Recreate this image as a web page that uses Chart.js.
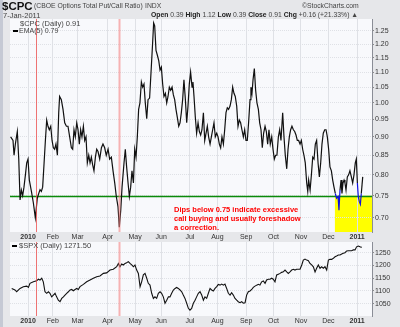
<!DOCTYPE html>
<html>
<head>
<meta charset="utf-8">
<script src="https://cdn.jsdelivr.net/npm/chart.js@4.4.1/dist/chart.umd.min.js"></script>
<style>
  body { margin: 0; background: #ffffff; }
  #frame { position: relative; width: 400px; height: 327px; background: #e6e7ea; overflow: hidden; }
  #frame::before { content: ''; position: absolute; left: 0; top: 0; width: 3px; height: 327px; background: #c5c9d4; }
  #frame canvas { position: absolute; left: 0; }
  .t { position: absolute; white-space: nowrap; font-family: 'Liberation Sans', Arial, sans-serif; color: #444; line-height: 1; }
  .b { font-weight: bold; color: #222; }
  .note { color: #ff0000; font-weight: bold; font-size: 7.5px; line-height: 9px; }
</style>
</head>
<body>
<div id="frame">
  <canvas id="cpc-chart" width="400" height="243" style="top:0"></canvas>
  <canvas id="spx-chart" width="400" height="97" style="top:230px"></canvas>

  <div class="t b" style="left:2px;top:1px;font-size:11.5px;color:#111">$CPC</div>
  <div class="t" style="left:34px;top:3px;font-size:6.8px">(CBOE Options Total Put/Call Ratio)</div>
  <div class="t" style="left:145px;top:3px;font-size:6.8px">INDX</div>
  <div class="t" style="left:3px;top:12px;font-size:7.5px">7-Jan-2011</div>
  <div class="t" style="left:302px;top:3px;font-size:6.8px">©StockCharts.com</div>
  <div class="t" style="left:151px;top:12px;font-size:6.8px"><span class="b">Open</span> 0.39 <span class="b">High</span> 1.12 <span class="b">Low</span> 0.39 <span class="b">Close</span> 0.91 <span class="b">Chg</span> +0.16 (+21.33%) ▲</div>

  <div class="t" style="left:20px;top:20px;font-size:7.5px">$CPC (Daily) 0.91</div>
  <div class="t" style="left:13px;top:27px;font-size:7px"><span style="display:inline-block;width:5px;height:1.5px;background:#000;vertical-align:middle;margin-right:1px"></span>EMA(5) 0.79</div>
  <div class="t" style="left:12px;top:242px;font-size:7.5px"><span style="display:inline-block;width:5px;height:1.5px;background:#000;vertical-align:middle;margin-right:2px"></span>$SPX (Daily) 1271.50</div>

  <div class="t note" style="left:174px;top:205px">Dips below 0.75 indicate excessive<br>call buying and usually foreshadow<br>a correction.</div>
</div>

<script>
// ==========================================
// DATA
// x positions are trading days counted from 4-Jan-2010
// ==========================================

const monthStartDays = [0, 19, 38, 61, 82, 102, 124, 145, 167, 188, 209, 230, 252];
const monthLabels = ['2010', 'Feb', 'Mar', 'Apr', 'May', 'Jun', 'Jul', 'Aug', 'Sep', 'Oct', 'Nov', 'Dec', '2011'];

const cpcTicks = [0.70, 0.75, 0.80, 0.85, 0.90, 0.95, 1.00, 1.05, 1.10, 1.15, 1.20, 1.25];
const spxTicks = [1050, 1100, 1150, 1200, 1250];

const cpcDays = [
  -13.3, -11.5, -10.7, -9.7, -8.2, -7.1, -6.1, -5.1, -4.1, -3.1, -2.0, -1.0, 0, 1.0, 2.6, 4.1, 5.6, 7.1, 8.2, 9.2,
  10.2, 11.2, 12.3, 13.3, 14.3, 15.3, 16.3, 17.4, 18.4, 19.4, 20.4, 21.4, 22.5, 23.5, 24.2, 25.5, 26.8, 28.1, 29.4, 30.6,
  31.9, 33.2, 34.2, 35.2, 36.2, 37.3, 38.3, 39.3, 40.3, 41.3, 42.4, 43.4, 44.4, 45.4, 46.5, 47.5, 48.5, 49.5, 50.5, 51.6,
  52.6, 53.6, 54.9, 56.2, 57.4, 58.7, 59.9, 61.3, 62.5, 63.8, 65.1, 66.4, 67.6, 68.9, 69.9, 71.0, 72.0, 73.5, 74.5, 75.5,
  76.6, 77.6, 78.6, 79.6, 80.7, 81.7, 82.7, 83.7, 84.7, 85.7, 86.8, 87.8, 88.8, 89.8, 90.9, 91.9, 93.1, 94.4, 95.4, 96.2,
  97.0, 98.0, 99.0, 100.1, 101.1, 102.1, 103.1, 104.1, 105.2, 106.2, 107.2, 108.2, 109.2, 110.3, 111.3, 112.3, 113.3, 114.3, 115.4, 116.4,
  117.4, 118.4, 119.4, 120.5, 121.5, 122.5, 123.5, 124.5, 125.6, 126.3, 127.1, 128.1, 129.1, 130.2, 131.2, 132.2, 133.2, 134.3, 135.3, 136.3,
  137.3, 138.3, 139.4, 140.4, 141.4, 142.4, 143.4, 144.5, 145.5, 146.5, 147.5, 148.5, 149.6, 150.6, 151.6, 152.6, 153.6, 154.7, 155.7, 156.7,
  157.7, 158.7, 159.8, 160.8, 161.8, 162.8, 163.8, 164.9, 165.9, 166.9, 167.9, 168.9, 170.0, 170.7, 171.5, 172.3, 173.3, 174.3, 175.3, 176.4,
  177.4, 178.4, 179.4, 180.4, 181.5, 182.5, 183.5, 184.5, 185.5, 186.6, 187.6, 188.6, 189.6, 190.6, 191.7, 192.7, 193.7, 195.0, 196.0, 197.0,
  198.1, 199.1, 200.1, 201.1, 202.1, 203.2, 204.2, 205.2, 206.2, 207.2, 208.3, 209.3, 210.3, 211.3, 212.3, 213.4, 214.2, 214.9, 216.0, 217.0,
  218.0, 219.0, 220.0, 221.0, 222.1, 223.1, 224.1, 225.1, 226.1, 227.2, 228.2, 229.2, 230.2, 231.2, 232.3, 233.3, 234.3, 235.3, 236.3, 237.4,
  238.1, 238.9, 239.7, 240.4, 241.2, 242.0, 242.7, 243.5, 244.5, 245.5, 246.5, 247.6, 248.6, 249.6, 250.6, 251.4, 252.2, 252.9, 253.7, 254.5,
  255.2, 256.3
];
const cpcValues = [
  0.90, 0.89, 0.85, 0.88, 0.915, 0.84, 0.74, 0.763, 0.75, 0.77, 0.80, 0.83, 0.84, 0.787, 0.76, 0.733, 0.70, 0.744, 0.755, 0.764,
  0.76, 0.77, 0.83, 0.89, 0.948, 0.93, 0.92, 0.93, 0.89, 0.87, 0.866, 0.88, 0.85, 0.97, 1.02, 1.01, 0.98, 0.94, 0.93, 0.93,
  0.90, 0.87, 0.866, 0.92, 0.90, 0.94, 0.92, 0.88, 0.92, 0.90, 0.93, 0.89, 0.90, 0.83, 0.85, 0.83, 0.845, 0.825, 0.81, 0.845,
  0.866, 0.86, 0.84, 0.87, 0.88, 0.87, 0.85, 0.866, 0.84, 0.845, 0.81, 0.78, 0.748, 0.725, 0.68, 0.717, 0.77, 0.83, 0.866, 0.82,
  0.78, 0.748, 0.77, 0.81, 0.78, 0.866, 0.845, 0.90, 0.98, 1.00, 1.067, 1.05, 1.06, 1.00, 0.952, 1.01, 1.015, 1.117, 1.203, 1.281,
  1.27, 1.177, 1.16, 1.14, 1.107, 1.117, 1.06, 1.02, 1.03, 1.00, 1.02, 1.05, 1.04, 1.05, 1.025, 1.01, 0.98, 0.957, 0.93, 0.94,
  0.97, 1.01, 1.074, 1.01, 0.94, 0.99, 1.06, 1.10, 1.05, 1.067, 1.02, 0.957, 0.91, 0.94, 0.915, 0.905, 0.92, 0.97, 0.89, 0.91,
  0.93, 0.90, 0.88, 0.90, 0.92, 0.94, 0.90, 0.91, 0.90, 0.88, 0.87, 0.90, 0.88, 0.92, 0.97, 0.985, 0.98, 0.99, 1.01, 1.05,
  1.03, 1.02, 0.99, 0.93, 0.948, 0.94, 0.92, 0.90, 0.92, 0.89, 0.89, 0.94, 1.01, 1.05, 1.03, 1.074, 1.112, 1.04, 1.00, 0.98,
  0.94, 0.92, 0.87, 0.91, 0.93, 0.915, 0.88, 0.92, 0.88, 0.90, 0.866, 0.84, 0.85, 0.85, 0.90, 0.92, 0.89, 0.97, 0.90, 0.85,
  0.815, 0.866, 0.90, 0.92, 0.93, 0.92, 0.915, 0.905, 0.89, 0.89, 0.88, 0.89, 0.866, 0.85, 0.83, 0.78, 0.76, 0.787, 0.763, 0.80,
  0.845, 0.84, 0.88, 0.89, 0.83, 0.795, 0.83, 0.88, 0.91, 0.92, 0.92, 0.90, 0.866, 0.82, 0.81, 0.787, 0.77, 0.755, 0.744, 0.748,
  0.717, 0.763, 0.787, 0.755, 0.78, 0.787, 0.78, 0.763, 0.795, 0.80, 0.81, 0.795, 0.78, 0.80, 0.83, 0.84, 0.78, 0.748, 0.736, 0.73,
  0.755, 0.795
];

const spxDays = [
  -12.5, -10.0, -8.7, -6.1, -3.6, -1.0, 0.3, 1.5, 4.1, 6.6, 7.9, 9.2, 10.5, 11.7, 13.0, 14.3, 15.6, 16.8, 18.1, 19.4,
  20.7, 21.9, 23.2, 24.5, 25.8, 27.1, 28.3, 29.6, 30.9, 32.2, 33.4, 34.7, 36.0, 37.3, 38.5, 39.8, 42.4, 44.9, 47.5, 50.0,
  52.6, 55.1, 57.7, 60.2, 62.8, 65.3, 67.9, 69.2, 70.4, 71.7, 73.0, 74.3, 75.5, 76.8, 78.1, 79.4, 80.7, 81.9, 83.2, 84.5,
  85.8, 87.0, 88.3, 89.6, 90.9, 92.1, 93.4, 94.7, 96.0, 97.2, 98.5, 99.8, 101.1, 102.3, 103.6, 104.9, 106.2, 107.5, 108.7, 110.0,
  111.3, 112.6, 113.8, 115.1, 116.4, 117.7, 118.9, 120.2, 121.5, 122.8, 124.0, 125.3, 126.6, 127.9, 129.1, 130.4, 131.7, 133.0, 134.3, 135.5,
  136.8, 138.1, 139.4, 140.6, 141.9, 143.2, 144.5, 145.7, 147.0, 148.3, 149.6, 150.8, 152.1, 153.4, 154.7, 155.9, 157.2, 158.5, 159.8, 161.0,
  162.3, 163.6, 164.9, 166.2, 167.4, 168.7, 170.0, 171.3, 172.5, 173.8, 175.1, 176.4, 177.6, 178.9, 180.2, 181.5, 182.7, 184.0, 185.3, 186.6,
  187.8, 189.1, 190.4, 191.7, 193.0, 194.2, 195.5, 196.8, 198.1, 199.3, 200.6, 201.9, 203.2, 204.4, 205.7, 207.0, 208.3, 209.6, 210.8, 212.1,
  213.4, 214.7, 215.9, 217.2, 218.5, 219.8, 221.0, 222.3, 223.6, 224.9, 226.1, 227.4, 228.7, 230.0, 231.2, 232.5, 233.8, 235.1, 236.3, 237.6,
  238.9, 240.2, 241.4, 242.7, 244.0, 245.3, 246.5, 247.8, 249.1, 250.4, 251.6, 252.9, 254.2, 255.5
];
const spxValues = [
  1110, 1104, 1097, 1110, 1117, 1119, 1114, 1130, 1136, 1140, 1146, 1143, 1150, 1136, 1097, 1091, 1097, 1091, 1077, 1084,
  1091, 1077, 1064, 1058, 1071, 1077, 1084, 1091, 1097, 1104, 1106, 1101, 1106, 1110, 1106, 1117, 1126, 1136, 1143, 1150,
  1156, 1159, 1169, 1171, 1182, 1185, 1195, 1208, 1195, 1206, 1202, 1208, 1211, 1215, 1208, 1202, 1195, 1202, 1182, 1169,
  1117, 1136, 1163, 1169, 1150, 1130, 1123, 1091, 1071, 1077, 1071, 1091, 1097, 1091, 1077, 1052, 1064, 1077, 1077, 1091,
  1104, 1110, 1114, 1110, 1104, 1097, 1084, 1071, 1052, 1032, 1025, 1032, 1052, 1064, 1077, 1091, 1097, 1084, 1064, 1077,
  1071, 1091, 1110, 1104, 1100, 1110, 1117, 1126, 1123, 1127, 1123, 1127, 1110, 1091, 1084, 1093, 1084, 1071, 1064, 1058,
  1054, 1058, 1052, 1054, 1084, 1097, 1100, 1106, 1114, 1119, 1123, 1126, 1123, 1136, 1139, 1130, 1143, 1146, 1146, 1150,
  1146, 1136, 1163, 1166, 1169, 1173, 1175, 1182, 1175, 1169, 1175, 1182, 1185, 1182, 1185, 1185, 1185, 1202, 1221, 1225,
  1221, 1219, 1208, 1202, 1195, 1175, 1189, 1202, 1189, 1195, 1189, 1195, 1182, 1221, 1224, 1224, 1228, 1234, 1237, 1241,
  1241, 1245, 1248, 1250, 1257, 1258, 1258, 1258, 1261, 1261, 1273, 1276, 1273, 1271
];

const signalLevel = 0.75;        // green line
const markerDays = [6, 70];      // red vertical markers (Jan / Apr dips)
const highlightStartDay = 235;   // yellow box start (mid Dec)

// ==========================================
// SHARED STYLE
// ==========================================

const FONT = "'Liberation Sans', Arial, sans-serif";
const GRID = '#dfe1e6';
const X_MIN = -13.8;
const X_MAX = 263.4;

function toPoints(days, values) {
  return days.map((d, i) => ({ x: d, y: values[i] }));
}

function monthAxis() {
  return {
    type: 'linear',
    min: X_MIN,
    max: X_MAX,
    afterBuildTicks: scale => { scale.ticks = monthStartDays.map(v => ({ value: v })); },
    afterFit: scale => { scale.height = 11; },
    ticks: {
      autoSkip: false,
      maxRotation: 0,
      padding: 1,
      color: '#333',
      font: ctx => ({ family: FONT, size: 7, weight: /^20/.test(monthLabels[ctx.index] || '') ? 'bold' : 'normal' }),
      callback: (value, index) => monthLabels[index]
    },
    grid: { color: GRID, drawTicks: false },
    border: { display: false }
  };
}

// Plot background, highlight box, level line and markers
const panelPlugin = {
  id: 'panel',
  beforeDraw(chart) {
    const { ctx, chartArea: a, scales } = chart;
    ctx.save();
    ctx.fillStyle = '#f8f9fc';
    ctx.fillRect(a.left, a.top, a.right - a.left, a.bottom - a.top);
    if (chart.options.plugins.panel.highlight) {
      const x0 = scales.x.getPixelForValue(highlightStartDay);
      const y0 = scales.y.getPixelForValue(signalLevel);
      ctx.fillStyle = '#ffff00';
      ctx.fillRect(x0, y0, a.right - x0, a.bottom - y0);
    }
    ctx.restore();
  },
  beforeDatasetsDraw(chart) {
    if (!chart.options.plugins.panel.highlight) return;
    const { ctx, chartArea: a, scales } = chart;
    const y = Math.round(scales.y.getPixelForValue(signalLevel)) + 0.5;
    ctx.save();
    ctx.strokeStyle = '#0a8a0a';
    ctx.lineWidth = 1.5;
    ctx.beginPath();
    ctx.moveTo(a.left, y);
    ctx.lineTo(a.right, y);
    ctx.stroke();
    ctx.restore();
  },
  afterDatasetsDraw(chart) {
    const { ctx, chartArea: a, scales } = chart;
    ctx.save();
    markerDays.forEach((d, i) => {
      const x = Math.round(scales.x.getPixelForValue(d)) + 0.5;
      ctx.strokeStyle = i === 0 ? 'rgba(235, 70, 70, 0.75)' : 'rgba(245, 130, 130, 0.6)';
      ctx.lineWidth = i === 0 ? 1 : 2;
      ctx.beginPath();
      ctx.moveTo(x, a.top);
      ctx.lineTo(x, a.bottom);
      ctx.stroke();
    });
    ctx.restore();
  }
};

// ==========================================
// $CPC PANEL
// ==========================================

new Chart(document.getElementById('cpc-chart'), {
  type: 'line',
  data: {
    datasets: [{
      data: toPoints(cpcDays, cpcValues),
      borderColor: '#111',
      borderWidth: 1.2,
      pointRadius: 0,
      tension: 0,
      segment: {
        borderColor: ctx => (ctx.p0.parsed.x >= highlightStartDay &&
          (ctx.p0.parsed.y < signalLevel || ctx.p1.parsed.y < signalLevel)) ? '#1010e0' : undefined
      }
    }]
  },
  options: {
    responsive: false,
    animation: false,
    layout: { padding: { left: 10, top: 19, right: 0, bottom: 0 } },
    plugins: { legend: { display: false }, tooltip: { enabled: false }, panel: { highlight: true } },
    scales: {
      x: monthAxis(),
      y: {
        type: 'logarithmic',
        position: 'right',
        min: 0.673,
        max: 1.297,
        afterBuildTicks: scale => { scale.ticks = cpcTicks.map(v => ({ value: v })); },
        afterFit: scale => { scale.width = 28; },
        ticks: {
          padding: 1,
          color: '#333',
          font: { family: FONT, size: 7 },
          callback: value => Number(value).toFixed(2)
        },
        grid: { color: GRID, tickLength: 2, tickColor: '#888' },
        border: { display: true, color: '#8a8d96', dash: [1, 1] }
      }
    }
  },
  plugins: [panelPlugin]
});

// ==========================================
// $SPX PANEL
// ==========================================

new Chart(document.getElementById('spx-chart'), {
  type: 'line',
  data: {
    datasets: [{
      data: toPoints(spxDays, spxValues),
      borderColor: '#111',
      borderWidth: 1.1,
      pointRadius: 0,
      tension: 0
    }]
  },
  options: {
    responsive: false,
    animation: false,
    layout: { padding: { left: 10, top: 12, right: 0, bottom: 0 } },
    plugins: { legend: { display: false }, tooltip: { enabled: false }, panel: { highlight: false } },
    scales: {
      x: monthAxis(),
      y: {
        type: 'linear',
        position: 'right',
        min: 1002,
        max: 1292,
        afterBuildTicks: scale => { scale.ticks = spxTicks.map(v => ({ value: v })); },
        afterFit: scale => { scale.width = 28; },
        ticks: {
          padding: 1,
          color: '#333',
          font: { family: FONT, size: 7 },
          callback: value => String(value)
        },
        grid: { color: GRID, tickLength: 2, tickColor: '#888' },
        border: { display: true, color: '#8a8d96', dash: [1, 1] }
      }
    }
  },
  plugins: [panelPlugin]
});
</script>
</body>
</html>
